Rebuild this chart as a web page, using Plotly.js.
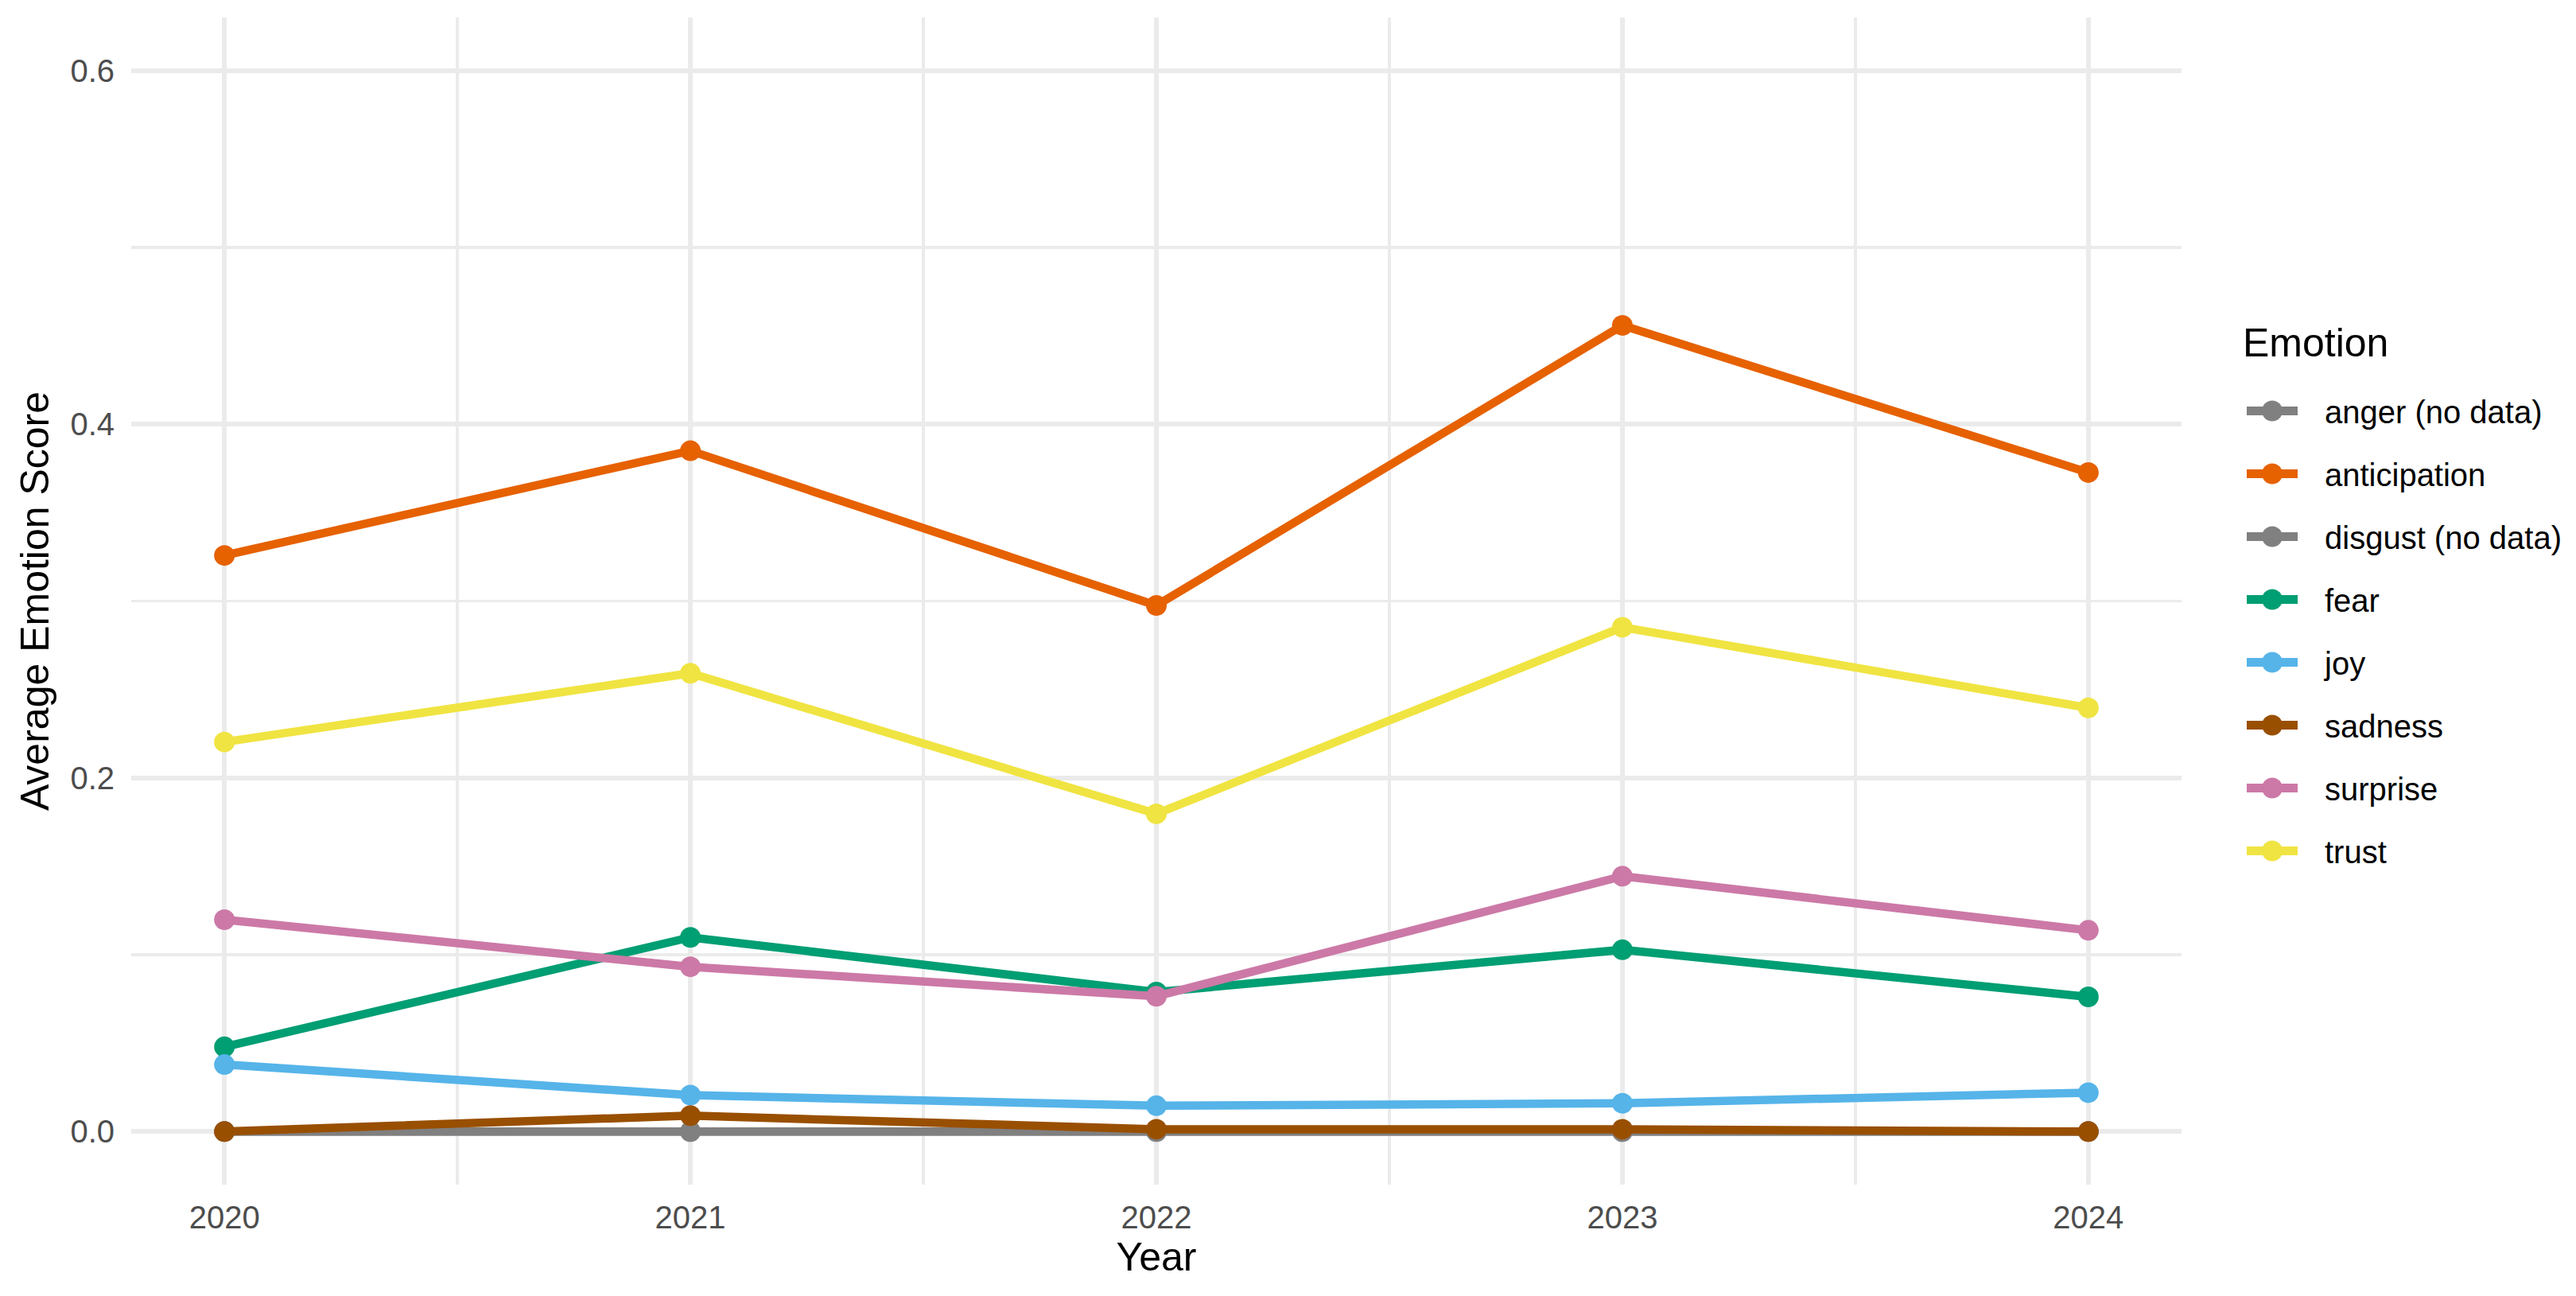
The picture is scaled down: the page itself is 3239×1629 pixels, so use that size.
<!DOCTYPE html>
<html>
<head>
<meta charset="utf-8">
<script src="https://cdn.plot.ly/plotly-3.0.1.min.js"></script>
<style>
  html, body { margin: 0; padding: 0; background: #ffffff; }
  #chart { width: 3239px; height: 1629px; }
</style>
</head>
<body>
<div id="chart"></div>
<script>
const years = [2020, 2021, 2022, 2023, 2024];

const emotions = ["anger (no data)", "anticipation", "disgust (no data)", "fear", "joy", "sadness", "surprise", "trust"];

const anger        = [0, 0, 0, 0, 0];
const anticipation = [0.3258, 0.3850, 0.2975, 0.4559, 0.3727];
const disgust      = [0, 0, 0, 0, 0];
const fear         = [0.0479, 0.1098, 0.0789, 0.1028, 0.0762];
const joy          = [0.0379, 0.0206, 0.0146, 0.0160, 0.0220];
const sadness      = [0.0000, 0.0090, 0.0013, 0.0013, 0.0000];
const surprise     = [0.1198, 0.0932, 0.0765, 0.1444, 0.1138];
const trust        = [0.2203, 0.2592, 0.1797, 0.2852, 0.2396];

const seriesValues = [anger, anticipation, disgust, fear, joy, sadness, surprise, trust];
const colors = ["#808080", "#E66100", "#808080", "#009E73", "#56B4E9", "#994F00", "#CC79A7", "#F0E442"];

const yTickVals = [0, 0.2, 0.4, 0.6];
const yTickText = ["0.0", "0.2", "0.4", "0.6"];
const xTickVals = years;
const xTickText = ["2020", "2021", "2022", "2023", "2024"];
const legendTitle = "Emotion";

const FONT = "Liberation Sans, Arial, Helvetica, sans-serif";

const traces = emotions.map((name, i) => ({
  type: "scatter",
  mode: "lines+markers",
  name: name,
  legendgroup: "g" + i,
  x: years,
  y: seriesValues[i],
  line: { color: colors[i], width: 10.5 },
  marker: { color: colors[i], size: 26 },
  hoverinfo: "skip"
}));

const W = 3239, H = 1629;
const PL = 164.5, PR = 2743, PT = 22, PB = 1489;
const ITEM_W = 122;
const KEY_CENTER = (ITEM_W + 10) / 2;

const layout = {
  width: W,
  height: H,
  paper_bgcolor: "#ffffff",
  plot_bgcolor: "#ffffff",
  font: { family: FONT, color: "#000000" },
  margin: { l: PL, r: W - PR, t: PT, b: H - PB, pad: 0 },
  showlegend: true,
  legend: {
    xref: "container", yref: "container",
    x: 2791 / W, y: 1 - 484 / H,
    xanchor: "left", yanchor: "top",
    font: { size: 40, color: "#000000", family: FONT },
    itemwidth: ITEM_W,
    tracegroupgap: 24,
    bgcolor: "rgba(0,0,0,0)",
    borderwidth: 0
  },
  annotations: [{
    text: legendTitle,
    xref: "paper", yref: "paper",
    x: (2818 - PL) / (PR - PL),
    y: (PB - 431) / (PB - PT),
    xanchor: "left", yanchor: "middle",
    showarrow: false,
    font: { size: 50, color: "#000000", family: FONT }
  }],
  xaxis: {
    range: [2019.8, 2024.2],
    tickvals: xTickVals,
    ticktext: xTickText,
    showgrid: true,
    gridcolor: "#EBEBEB",
    gridwidth: 6,
    minor: { dtick: 0.5, tick0: 2019.5, showgrid: true, gridcolor: "#EBEBEB", gridwidth: 3.5 },
    zeroline: false,
    showline: false,
    ticks: "",
    ticklabelstandoff: 14,
    tickfont: { size: 40, color: "#4D4D4D", family: FONT },
    title: { text: "Year", font: { size: 50, color: "#000000", family: FONT }, standoff: 6 }
  },
  yaxis: {
    range: [-0.03, 0.63],
    tickvals: yTickVals,
    ticktext: yTickText,
    showgrid: true,
    gridcolor: "#EBEBEB",
    gridwidth: 6,
    minor: { dtick: 0.1, tick0: 0, showgrid: true, gridcolor: "#EBEBEB", gridwidth: 3.5 },
    zeroline: false,
    showline: false,
    ticks: "",
    ticklabelstandoff: 20,
    tickfont: { size: 40, color: "#4D4D4D", family: FONT },
    title: { text: "Average Emotion Score", font: { size: 50, color: "#000000", family: FONT }, standoff: 10 }
  }
};

function enlargeLegendKeys(gd) {
  // Plotly clamps legend key sizes; widen them to match the reference keys
  gd.querySelectorAll(".legend .legendlines path").forEach(function (p) {
    p.setAttribute("d", "M" + (KEY_CENTER - 32) + ",0h64");
    p.setAttribute("transform", "");
    p.style.strokeWidth = "11px";
  });
  gd.querySelectorAll(".legend .legendpoints path.scatterpts").forEach(function (p) {
    p.setAttribute("d", "M13,0A13,13 0 1,1 0,-13A13,13 0 0,1 13,0Z");
  });
}

Plotly.newPlot("chart", traces, layout, { staticPlot: true, displayModeBar: false }).then(function (gd) {
  enlargeLegendKeys(gd);
  setTimeout(function () { enlargeLegendKeys(gd); }, 50);
});
</script>
</body>
</html>
